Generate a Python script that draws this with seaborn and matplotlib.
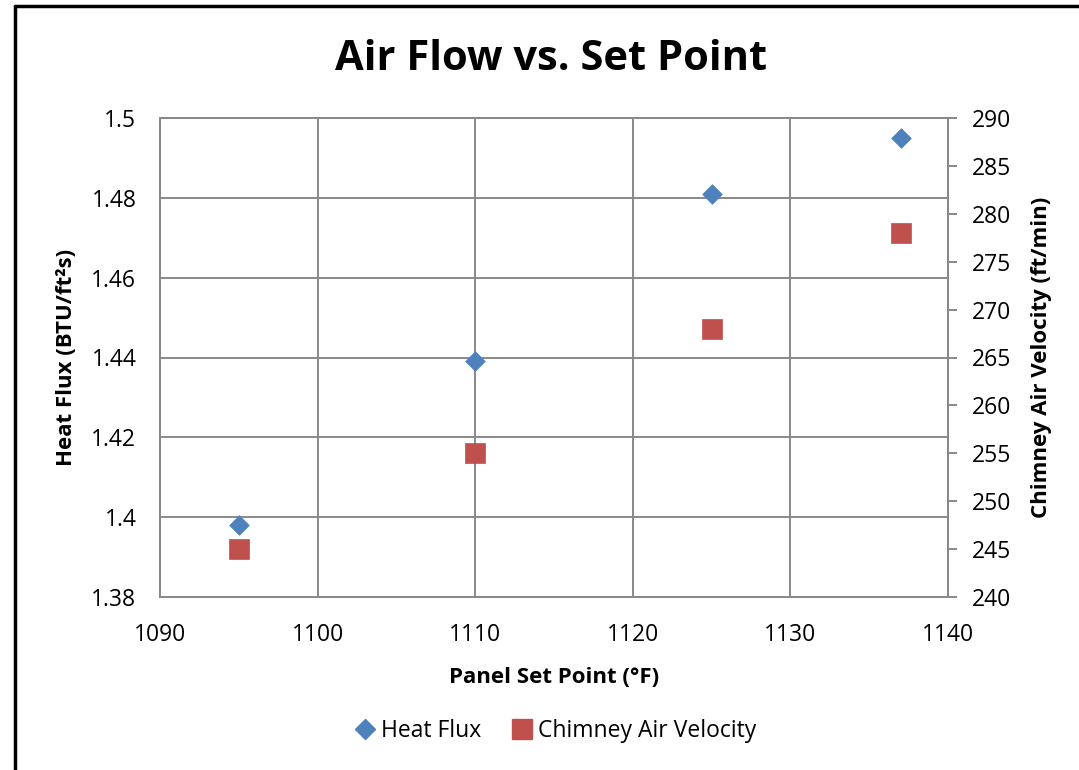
import matplotlib
matplotlib.use("Agg")
import matplotlib.pyplot as plt
import seaborn as sns
import pandas as pd
from matplotlib.lines import Line2D

set_points = [1095, 1110, 1125, 1137]
heat_flux = [1.398, 1.439, 1.481, 1.495]
air_velocity = [245, 255, 268, 278]

title = "Air Flow vs. Set Point"
xlabel = "Panel Set Point (°F)"
ylabel_left = "Heat Flux (BTU/ft²s)"
ylabel_right = "Chimney Air Velocity (ft/min)"
series_names = ["Heat Flux", "Chimney Air Velocity"]

blue = "#4F81BD"
red = "#C0504D"
grid_c = "#898989"

sns.set_theme(style="white")
plt.rcParams["font.family"] = ["Open Sans", "DejaVu Sans"]
plt.rcParams["text.color"] = "black"
plt.rcParams["axes.labelcolor"] = "black"

fig = plt.figure(figsize=(10.79, 7.70), dpi=100)
ax = fig.add_axes([160/1079, 1-597/770, (948-160)/1079, (597-118)/770])
ax2 = ax.twinx()

df = pd.DataFrame({"x": set_points, "hf": heat_flux, "v": air_velocity})
sns.scatterplot(data=df, x="x", y="hf", ax=ax, marker="D", s=100, color=blue,
                edgecolor=blue, linewidth=0.5, zorder=3)
sns.scatterplot(data=df, x="x", y="v", ax=ax2, marker="s", s=200, color=red,
                edgecolor=red, linewidth=0.5, zorder=3)

ax.set_xlim(1090, 1140)
ax.set_ylim(1.38, 1.5)
ax2.set_ylim(240, 290)
ax.set_xticks(range(1090, 1141, 10))
ax.set_yticks([1.38, 1.40, 1.42, 1.44, 1.46, 1.48, 1.50])
ax.set_yticklabels(["1.38", "1.4", "1.42", "1.44", "1.46", "1.48", "1.5"])
ax2.set_yticks(range(240, 291, 5))

ax.grid(True, color=grid_c, linewidth=1.4)
ax.set_axisbelow(True)
ax2.grid(False)

for a in (ax, ax2):
    for s in a.spines.values():
        s.set_color(grid_c)
        s.set_linewidth(1.4)
ax.tick_params(axis="y", length=0, labelsize=16.5, pad=17, colors="black")
ax.tick_params(axis="x", length=0, labelsize=16.5, pad=19, colors="black")
ax2.tick_params(axis="y", length=6.5, width=1.4, color=grid_c, labelsize=16.5,
                labelcolor="black", pad=11, right=True)

ax.set_xlabel(xlabel, fontsize=16, fontweight="bold", labelpad=14)
ax.set_ylabel(ylabel_left, fontsize=16, fontweight="bold", labelpad=10)
ax2.set_ylabel(ylabel_right, fontsize=16, fontweight="bold", labelpad=14,
               rotation=90)

fig.text(551/1079, 1-60/770, title, ha="center", va="center",
         fontsize=30, fontweight="bold")

handles = [
    Line2D([], [], marker="D", linestyle="none", markersize=10,
           markerfacecolor=blue, markeredgecolor=blue, label=series_names[0]),
    Line2D([], [], marker="s", linestyle="none", markersize=14,
           markerfacecolor=red, markeredgecolor=red, label=series_names[1]),
]
fig.legend(handles=handles, loc="center", bbox_to_anchor=(555/1079, 1-731/770),
           ncol=2, frameon=False, fontsize=16.5, handletextpad=0.2,
           columnspacing=1.3, handlelength=1.0)

# outer chart border (left and top visible)
fig.add_artist(Line2D([15/1079, 15/1079], [0, 1-6/770], transform=fig.transFigure,
                      color="black", linewidth=2.5))
fig.add_artist(Line2D([15/1079, 1], [1-6/770, 1-6/770], transform=fig.transFigure,
                      color="black", linewidth=2.5))

fig.savefig("out.png", dpi=100, facecolor="white")
